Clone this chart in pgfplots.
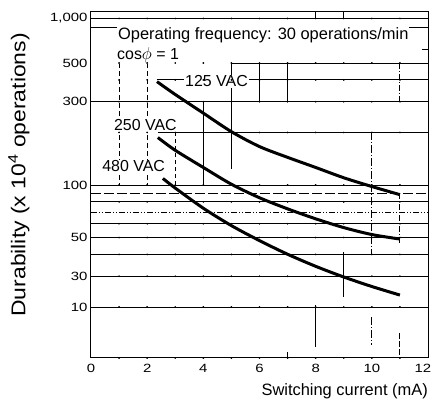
\documentclass[border=0pt]{standalone}
\usepackage{fontspec}
\setmainfont{Liberation Sans}
\usepackage{graphicx}
\usepackage{pgfplots}
\pgfplotsset{compat=1.18}
\newcommand{\tl}[1]{\scalebox{1.25}[1]{#1}}
\newcommand{\dotrow}[1]{\addplot[only marks, mark=*, mark size=0.65bp, black] coordinates {(1,#1)(2,#1)(3,#1)(4,#1)(5,#1)(6,#1)(7,#1)(8,#1)(9,#1)(10,#1)(11,#1)};}
\tikzset{gl/.style={line width=0.9bp, black},
  curve/.style={line width=3bp, black, smooth},
  lbl/.style={anchor=base west, fill=white, inner sep=1bp, font=\fontsize{16}{16}\selectfont}}
\begin{document}
\begin{tikzpicture}
\begin{axis}[name=ax, scale only axis, width=337bp, height=346bp,
 xmin=0, xmax=12, ymin=10.2, ymax=980, ymode=log, clip=false,
 axis line style={line width=1bp},
 xtick={0,2,4,6,8,10,11.82}, xticklabels={\tl{0},\tl{2},\tl{4},\tl{6},\tl{8},\tl{10},\tl{12}},
 ytick={20,30,50,100,300,500,900}, yticklabels={\tl{10},\tl{30},\tl{50},\tl{100},\tl{300},\tl{500},{\tl{1,000}}},
 yminorticks=false, xminorticks=false, major tick length=0,
 ticklabel style={font=\fontsize{12}{12}\selectfont},
 xticklabel style={yshift=-3bp},
 xlabel={Switching current (mA)},
 xlabel style={at={(rel axis cs:1,-0.107)}, anchor=base east, inner sep=0pt, font=\fontsize{16.5}{16.5}\selectfont},
 ylabel={\scalebox{1.15}[1]{Durability (x 10\textsuperscript{4} operations)}},
 ylabel style={at={(rel axis cs:-0.2136,0.529)}, anchor=center, font=\fontsize{20}{20}\selectfont},
]
% horizontal grid lines
\addplot[gl] coordinates {(0,900)(12,900)};
\addplot[gl] coordinates {(0,800)(12,800)};
\addplot[gl] coordinates {(11.8,600)(12,600)};
\addplot[gl] coordinates {(5,500)(12,500)};
\addplot[gl] coordinates {(2.35,400)(12,400)};
\addplot[gl] coordinates {(0,300)(12,300)};
\addplot[gl] coordinates {(2.38,200)(12,200)};
\addplot[gl] coordinates {(0,100)(12,100)};
\addplot[gl, dash pattern=on 10bp off 3bp] coordinates {(0,90)(12,90)};
\addplot[gl] coordinates {(0,80)(12,80)};
\addplot[gl, dash pattern=on 6bp off 2bp on 1bp off 2bp on 1bp off 2bp] coordinates {(0,70)(12,70)};
\addplot[gl] coordinates {(0,60)(12,60)};
\addplot[gl] coordinates {(0,50)(12,50)};
\addplot[gl] coordinates {(0,40)(12,40)};
\addplot[gl] coordinates {(0,30)(12,30)};
\addplot[gl] coordinates {(0,20)(12,20)};
% vertical segments
\addplot[gl, dash pattern=on 5bp off 3bp] coordinates {(1,500)(1,100)};
\addplot[gl, dash pattern=on 5bp off 3bp] coordinates {(2,500)(2,100)};
\addplot[gl, dash pattern=on 4bp off 3bp] coordinates {(3,200)(3,100)};
\addplot[gl] coordinates {(4,300)(4,100)};
\addplot[gl] coordinates {(5,500)(5,124)};
\addplot[gl] coordinates {(6,500)(6,300)};
\addplot[gl] coordinates {(7,500)(7,300)};
\addplot[gl] coordinates {(8,980)(8,900)};
\addplot[gl] coordinates {(8,20.5)(8,11.8)};
\addplot[gl] coordinates {(9,980)(9,900)};
\addplot[gl] coordinates {(9,41.4)(9,22.8)};
\addplot[gl, dash pattern=on 8bp off 2bp on 1bp off 2bp] coordinates {(10,200)(10,40)};
\addplot[gl, dash pattern=on 8bp off 2bp on 1bp off 2bp] coordinates {(10,17.5)(10,12.1)};
\addplot[gl, dash pattern=on 6bp off 2bp on 1bp off 2bp] coordinates {(11,500)(11,300)};
\addplot[gl, dash pattern=on 6bp off 2bp on 1bp off 2bp] coordinates {(11,90)(11,46.6)};
\addplot[gl, dash pattern=on 6bp off 2bp] coordinates {(11,14.2)(11,10.2)};
\addplot[gl] coordinates {(7,11.04)(7,10.2)};
% tick dots
\dotrow{900}\dotrow{500}\dotrow{400}\dotrow{300}\dotrow{200}\dotrow{100}
\dotrow{80}\dotrow{60}\dotrow{50}\dotrow{40}\dotrow{30}\dotrow{20}\dotrow{10.2}
% curves
\addplot[curve] coordinates {(2.35,391)(3,330)(4,258)(5,202)(6,166)(7,144)(8,126)(9,110)(10,98)(11,88)};
\addplot[curve] coordinates {(2.38,187)(3,158)(4,126)(5,101)(6,84.5)(7,73)(8,64)(9,57)(10,52)(11,49)};
\addplot[curve] coordinates {(2.56,109)(3,96)(4,73.6)(5,58.5)(6,48)(7,40.1)(8,34.2)(9,29.7)(10,26.2)(11,23.4)};
% labels
\node[lbl, font=\fontsize{16.5}{16.5}\selectfont] at (axis cs:0.925,685) {Operating frequency: 30 operations/min};
\node[lbl] at (axis cs:0.89,523) {cos$\phi$ = 1};
\node[lbl] at (axis cs:3.31,366) {125 VAC};
\node[lbl] at (axis cs:0.78,205) {250 VAC};
\node[lbl] at (axis cs:0.36,119) {480 VAC};
\end{axis}
\pgfresetboundingbox
\path[use as bounding box] ([xshift=-91bp,yshift=-43bp]ax.south west) rectangle ([xshift=3bp,yshift=12bp]ax.north east);
\end{tikzpicture}
\end{document}
